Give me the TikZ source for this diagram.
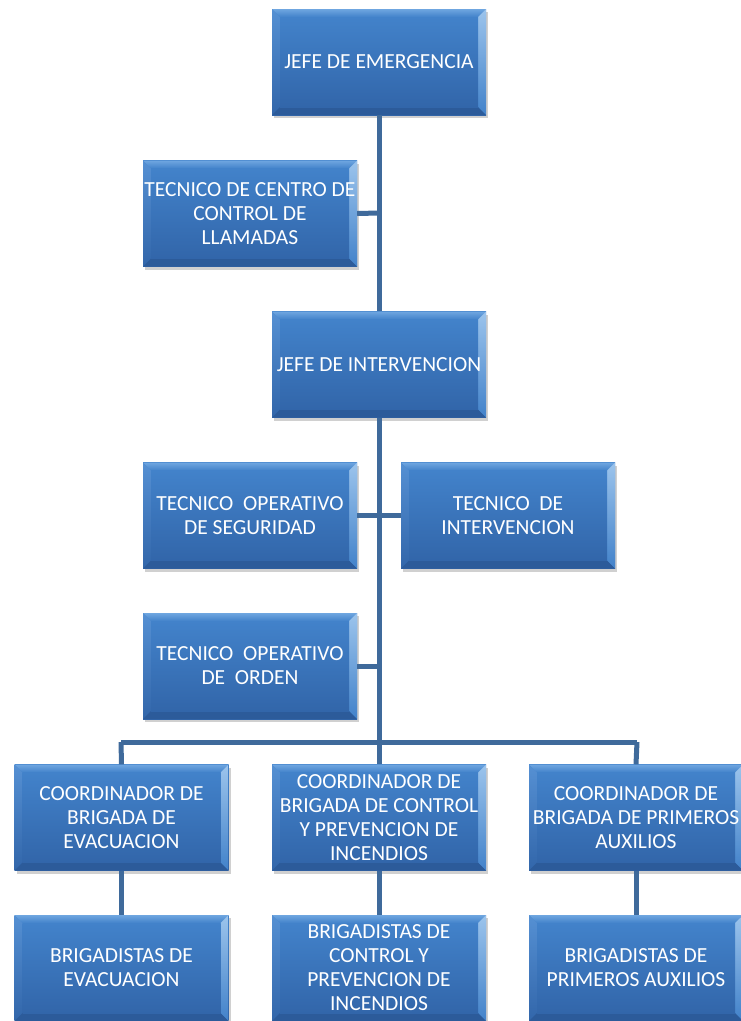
\documentclass[tikz,border=0pt]{standalone}
\usepackage{fontspec}
\setmainfont{Carlito}
\usetikzlibrary{shadows}
\definecolor{faceT}{HTML}{4282CA}
\definecolor{faceB}{HTML}{3266AA}
\definecolor{bevT}{HTML}{6FA6E0}
\definecolor{bevL}{HTML}{5590D3}
\definecolor{bevR}{HTML}{9CC4EC}
\definecolor{bevB}{HTML}{2C5B9A}
\definecolor{linec}{HTML}{3F6A9B}
\tikzset{
  bx/.style={minimum width=214pt, minimum height=106pt, inner sep=0pt, text=white,
    align=center, font=\fontsize{21.5}{24}\selectfont,
    drop shadow={shadow xshift=2pt, shadow yshift=-3pt, opacity=0.3, fill=black!60},
    path picture={
      \coordinate (sw) at (path picture bounding box.south west);
      \coordinate (ne) at (path picture bounding box.north east);
      \coordinate (nw) at (path picture bounding box.north west);
      \coordinate (se) at (path picture bounding box.south east);
      \shade[top color=faceT, bottom color=faceB] (sw) rectangle (ne);
      \shade[top color=bevT, bottom color=faceT] (nw) -- (ne) -- ([shift={(-8pt,-8pt)}]ne) -- ([shift={(8pt,-8pt)}]nw) -- cycle;
      \shade[top color=bevL, bottom color=faceB] (nw) -- ([shift={(8pt,-8pt)}]nw) -- ([shift={(8pt,8pt)}]sw) -- (sw) -- cycle;
      \shade[top color=bevR, bottom color=faceT] (ne) -- ([shift={(-8pt,-8pt)}]ne) -- ([shift={(-8pt,8pt)}]se) -- (se) -- cycle;
      \fill[bevB] (sw) -- ([shift={(8pt,8pt)}]sw) -- ([shift={(-8pt,8pt)}]se) -- (se) -- cycle;
      \shade[top color=faceT, bottom color=faceB] ([shift={(8pt,8pt)}]sw) rectangle ([shift={(-8pt,-8pt)}]ne);
    }},
  conn/.style={draw=linec, line width=5pt}
}
\begin{document}
\begin{tikzpicture}[x=1pt,y=-1pt]
\useasboundingbox[fill=white] (0,0) rectangle (740,1021);
\coordinate (trunkbot) at (379,742);
\coordinate (hl) at (121,742);
\coordinate (hr) at (637,742);
\coordinate (j1) at (379,213);
\coordinate (j2) at (379,516);
\coordinate (j3) at (379,666);
% boxes
\node[bx] (je) at (379,62) {JEFE DE EMERGENCIA};
\node[bx] (tc) at (250,213.5) {TECNICO DE CENTRO DE\\CONTROL DE\\LLAMADAS};
\node[bx] (ji) at (379,364.5) {JEFE DE INTERVENCION};
\node[bx] (tos) at (250,515.5) {TECNICO\ \ OPERATIVO\\DE SEGURIDAD};
\node[bx] (ti) at (508,515.5) {TECNICO\ \ DE\\INTERVENCION};
\node[bx] (too) at (250,666) {TECNICO\ \ OPERATIVO\\DE\ \ ORDEN};
\node[bx] (c1) at (121.5,817.5) {COORDINADOR DE\\BRIGADA DE\\EVACUACION};
\node[bx] (c2) at (379,817.5) {COORDINADOR DE\\BRIGADA DE CONTROL\\Y PREVENCION DE\\INCENDIOS};
\node[bx] (c3) at (636,817.5) {COORDINADOR DE\\BRIGADA DE PRIMEROS\\AUXILIOS};
\node[bx] (b1) at (121.5,968) {BRIGADISTAS DE\\EVACUACION};
\node[bx] (b2) at (379,968) {BRIGADISTAS DE\\CONTROL Y\\PREVENCION DE\\INCENDIOS};
\node[bx] (b3) at (636,968) {BRIGADISTAS DE\\PRIMEROS AUXILIOS};
% connectors
\begin{scope}[on background layer/.style={}]
\draw[conn] (je.south) -- (ji.north);
\draw[conn] (ji.south) -- (trunkbot);
\draw[conn] (hl) -- (hr);
\draw[conn] (hl) -- (c1.north);
\draw[conn] (trunkbot) -- (c2.north);
\draw[conn] (hr) -- (c3.north);
\draw[conn] (j1) -- (tc.east);
\draw[conn] (tos.east) -- (ti.west);
\draw[conn] (j3) -- (too.east);
\draw[conn] (c1.south) -- (b1.north);
\draw[conn] (c2.south) -- (b2.north);
\draw[conn] (c3.south) -- (b3.north);
\end{scope}
\end{tikzpicture}
\end{document}
